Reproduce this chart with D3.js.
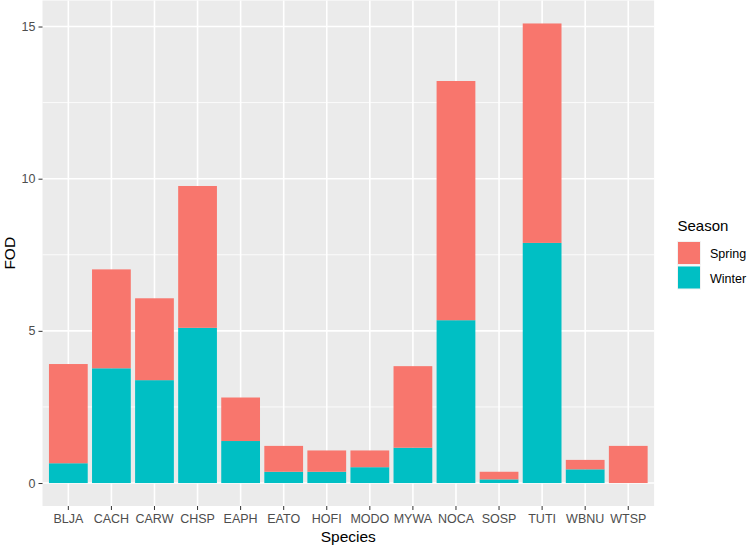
<!DOCTYPE html>
<html>
<head>
<meta charset="utf-8">
<script src="https://cdn.jsdelivr.net/npm/d3@7"></script>
<style>
  html, body { margin: 0; padding: 0; background: #ffffff; }
  svg { display: block; font-family: "Liberation Sans", Arial, sans-serif; }
</style>
</head>
<body>
<svg id="chart" width="750" height="548"></svg>
<script>
// ---- data ----
const species = ["BLJA","CACH","CARW","CHSP","EAPH","EATO","HOFI","MODO","MYWA","NOCA","SOSP","TUTI","WBNU","WTSP"];
const seasons = ["Spring","Winter"];
const winterFOD = [0.65, 3.77, 3.38, 5.10, 1.38, 0.37, 0.37, 0.52, 1.16, 5.35, 0.12, 7.89, 0.45, 0.00];
const springFOD = [3.26, 3.25, 2.69, 4.66, 1.43, 0.85, 0.70, 0.55, 2.68, 7.86, 0.25, 7.21, 0.31, 1.22];
const yTicks = [0, 5, 10, 15];
const yMinorTicks = [2.5, 7.5, 12.5];
const seasonColors = ["#F8766D", "#00BFC4"];

// ---- layout ----
const panel = { left: 42.5, right: 654.1, top: 0.5, bottom: 506 };
const svg = d3.select("#chart");

const rows = species.map((s, i) => ({ species: s, Winter: winterFOD[i], Spring: springFOD[i] }));
const stack = d3.stack().keys(["Winter", "Spring"]);
const series = stack(rows);

const maxTotal = d3.max(rows, d => d.Winter + d.Spring);
const pad = maxTotal * 0.05;

const x = d3.scaleBand().domain(species)
  .range([panel.left, panel.right]).paddingInner(0.1).paddingOuter(0.15);
const y = d3.scaleLinear().domain([-pad, maxTotal + pad]).range([panel.bottom, panel.top]);
const color = d3.scaleOrdinal().domain(seasons).range(seasonColors);

// panel background
svg.append("rect")
  .attr("x", panel.left).attr("y", panel.top)
  .attr("width", panel.right - panel.left).attr("height", panel.bottom - panel.top)
  .attr("fill", "#EBEBEB");

// grid
const grid = svg.append("g");
grid.selectAll(".ymin").data(yMinorTicks).join("line")
  .attr("x1", panel.left).attr("x2", panel.right)
  .attr("y1", d => y(d)).attr("y2", d => y(d))
  .attr("stroke", "#ffffff").attr("stroke-width", 0.8);
grid.selectAll(".ymaj").data(yTicks).join("line")
  .attr("x1", panel.left).attr("x2", panel.right)
  .attr("y1", d => y(d)).attr("y2", d => y(d))
  .attr("stroke", "#ffffff").attr("stroke-width", 1.6);
grid.selectAll(".xmaj").data(species).join("line")
  .attr("y1", panel.top).attr("y2", panel.bottom)
  .attr("x1", d => x(d) + x.bandwidth() / 2).attr("x2", d => x(d) + x.bandwidth() / 2)
  .attr("stroke", "#ffffff").attr("stroke-width", 1.6);

// bars
svg.append("g").selectAll("g").data(series).join("g")
  .attr("fill", d => color(d.key))
  .selectAll("rect").data(d => d).join("rect")
  .attr("x", d => x(d.data.species))
  .attr("width", x.bandwidth())
  .attr("y", d => y(d[1]))
  .attr("height", d => Math.max(0, y(d[0]) - y(d[1])));

// axes
const yAxis = svg.append("g").attr("transform", `translate(${panel.left},0)`)
  .call(d3.axisLeft(y).tickValues(yTicks).tickSize(4).tickPadding(3));
const xAxis = svg.append("g").attr("transform", `translate(0,${panel.bottom})`)
  .call(d3.axisBottom(x).tickSize(4).tickPadding(4));
[yAxis, xAxis].forEach(a => {
  a.select(".domain").remove();
  a.selectAll(".tick line").attr("stroke", "#333333").attr("stroke-width", 1);
  a.selectAll(".tick text").attr("fill", "#4D4D4D").attr("font-size", "12.5px")
    .attr("font-family", "Liberation Sans, Arial, sans-serif");
});

// axis titles
svg.append("text")
  .attr("x", (panel.left + panel.right) / 2).attr("y", 542)
  .attr("text-anchor", "middle").attr("font-size", "15.5px").attr("fill", "#000")
  .text("Species");
svg.append("text")
  .attr("transform", `translate(15,${(panel.top + panel.bottom) / 2}) rotate(-90)`)
  .attr("text-anchor", "middle").attr("font-size", "15.5px").attr("fill", "#000")
  .text("FOD");

// legend
const legend = svg.append("g").attr("transform", "translate(677.5,0)");
legend.append("text").attr("x", 0).attr("y", 231)
  .attr("font-size", "15px").attr("fill", "#000").text("Season");
const items = legend.selectAll(".item").data(seasons).join("g")
  .attr("transform", (d, i) => `translate(0,${241.5 + i * 24.5})`);
items.append("rect").attr("width", 23).attr("height", 23)
  .attr("fill", d => color(d)).attr("stroke", "#F2F2F2").attr("stroke-width", 1);
items.append("text").attr("x", 32.5).attr("y", 16.5)
  .attr("font-size", "12.5px").attr("fill", "#000").text(d => d);
</script>
</body>
</html>
